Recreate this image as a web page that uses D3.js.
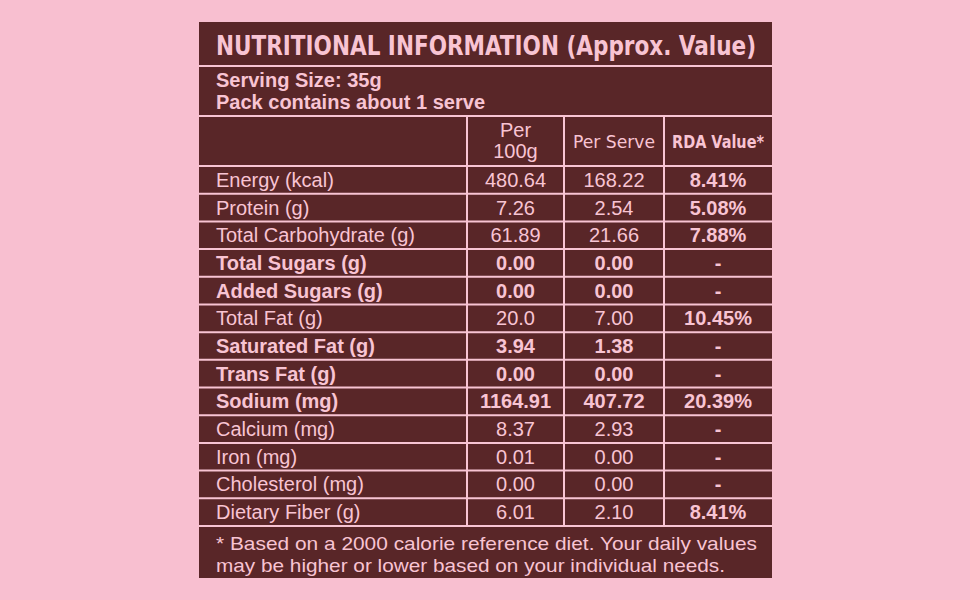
<!DOCTYPE html>
<html><head><meta charset="utf-8">
<script src="https://cdn.jsdelivr.net/npm/d3@7"></script>
<style>body{margin:0;background:#f8bfd0;}svg{display:block;}</style>
</head><body><svg id="c" width="970" height="600"></svg>
<script>
const nutrients = ["Energy (kcal)","Protein (g)","Total Carbohydrate (g)","Total Sugars (g)","Added Sugars (g)","Total Fat (g)","Saturated Fat (g)","Trans Fat (g)","Sodium (mg)","Calcium (mg)","Iron (mg)","Cholesterol (mg)","Dietary Fiber (g)"];
const per100g = ["480.64","7.26","61.89","0.00","0.00","20.0","3.94","0.00","1164.91","8.37","0.01","0.00","6.01"];
const perServe = ["168.22","2.54","21.66","0.00","0.00","7.00","1.38","0.00","407.72","2.93","0.00","0.00","2.10"];
const rda = ["8.41%","5.08%","7.88%","-","-","10.45%","-","-","20.39%","-","-","-","8.41%"];
const boldRows = ["Total Sugars (g)","Added Sugars (g)","Saturated Fat (g)","Trans Fat (g)","Sodium (mg)"];

const svg = d3.select("#c");
const brown = "#592628", pink = "#f8c4d3";
const L = 199, R = 772, T = 22, B = 578;
const cols = [L, 467, 564, 664, R];
const y = d3.scaleBand().domain(nutrients).range([166, 526]);

svg.append("rect").attr("x", L).attr("y", T).attr("width", R - L).attr("height", B - T).attr("fill", brown);

const line = (x1, y1, x2, y2) => svg.append("line").attr("x1", x1).attr("y1", y1).attr("x2", x2).attr("y2", y2)
  .attr("stroke", pink).attr("stroke-width", 2);
line(L, 66, R, 66);
line(L, 116, R, 116);
nutrients.forEach(n => line(L, y(n), R, y(n)));
line(L, 526, R, 526);
cols.slice(1, 4).forEach(x => line(x, 116, x, 526));

const text = (x, yy, s, o = {}) => svg.append("text").attr("x", x).attr("y", yy).text(s)
  .attr("fill", pink).attr("font-family", o.family || "Liberation Sans, Arial, sans-serif")
  .attr("font-size", o.size || 20).attr("font-weight", o.bold ? "bold" : "normal")
  .attr("text-anchor", o.anchor || "start").attr("dominant-baseline", "central");

text(216, 45, "NUTRITIONAL INFORMATION (Approx. Value)", {family: "DejaVu Sans Condensed, DejaVu Sans", size: 27, bold: true})
  .attr("textLength", 540).attr("lengthAdjust", "spacingAndGlyphs");
text(216, 80, "Serving Size: 35g", {size: 20, bold: true});
text(216, 102, "Pack contains about 1 serve", {size: 20, bold: true});

const mid = i => (cols[i] + cols[i + 1]) / 2;
text(mid(1), 130, "Per", {anchor: "middle"});
text(mid(1), 151, "100g", {anchor: "middle"});
text(mid(2), 142, "Per Serve", {anchor: "middle", family: "DejaVu Sans Condensed, DejaVu Sans", size: 17})
  .attr("textLength", 82).attr("lengthAdjust", "spacingAndGlyphs");
text(mid(3), 142, "RDA Value*", {anchor: "middle", family: "DejaVu Sans Condensed, DejaVu Sans", size: 17, bold: true})
  .attr("textLength", 92).attr("lengthAdjust", "spacingAndGlyphs");

nutrients.forEach((n, i) => {
  const cy = y(n) + y.bandwidth() / 2;
  const b = boldRows.includes(n);
  text(216, cy, n, {bold: b});
  text(mid(1), cy, per100g[i], {anchor: "middle", bold: b});
  text(mid(2), cy, perServe[i], {anchor: "middle", bold: b});
  text(mid(3), cy, rda[i], {anchor: "middle", bold: true});
});

text(216, 543, "* Based on a 2000 calorie reference diet. Your daily values", {size: 19})
  .attr("textLength", 541).attr("lengthAdjust", "spacingAndGlyphs");
text(216, 565, "may be higher or lower based on your individual needs.", {size: 19})
  .attr("textLength", 509).attr("lengthAdjust", "spacingAndGlyphs");
</script></body></html>
